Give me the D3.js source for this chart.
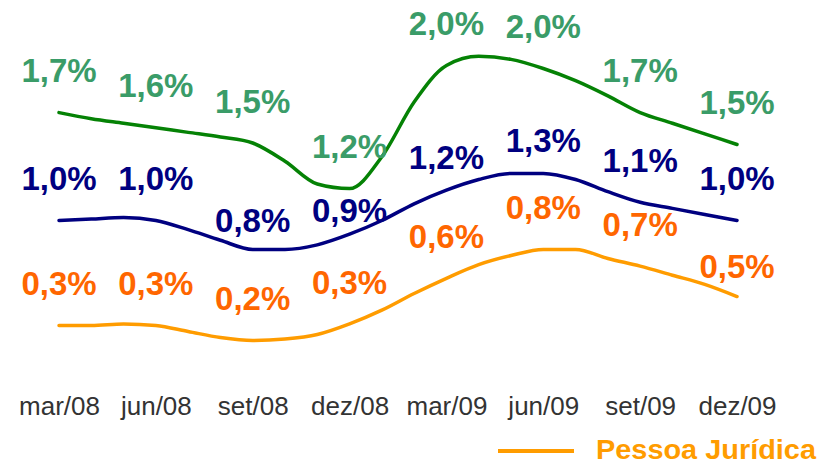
<!DOCTYPE html>
<html>
  <head>
    <meta charset="utf-8">
    <title>Inadimplência</title>
    <script src="https://d3js.org/d3.v7.min.js"></script>
    <style>
      body { margin: 0; background: #fff; }
    </style>
  </head>
  <body>
    <script>
      // months, mar/08 .. dez/09
      const months = ["mar/08", "abr/08", "mai/08", "jun/08", "jul/08", "ago/08", "set/08", "out/08", "nov/08",
        "dez/08", "jan/09", "fev/09", "mar/09", "abr/09", "mai/09", "jun/09", "jul/09", "ago/09", "set/09",
        "out/09", "nov/09", "dez/09"];
      const tickLabels = ["mar/08", "jun/08", "set/08", "dez/08", "mar/09", "jun/09", "set/09", "dez/09"];

      // monthly values (%)
      const totalSeries = [1.70, 1.66, 1.63, 1.60, 1.57, 1.54, 1.50, 1.38, 1.23, 1.20, 1.41, 1.77,
        2.01, 2.07, 2.05, 1.99, 1.91, 1.81, 1.70, 1.63, 1.56, 1.49];
      const pfSeries = [0.99, 1.00, 1.01, 0.99, 0.93, 0.86, 0.80, 0.80, 0.83, 0.90, 0.99, 1.10,
        1.19, 1.26, 1.30, 1.30, 1.26, 1.18, 1.11, 1.07, 1.03, 0.99];
      const pjSeries = [0.30, 0.30, 0.31, 0.30, 0.26, 0.22, 0.20, 0.21, 0.24, 0.31, 0.40, 0.51,
        0.61, 0.70, 0.76, 0.80, 0.80, 0.74, 0.69, 0.63, 0.57, 0.49];

      // quarterly labels shown on the chart
      const totalLabels = ["1,7%", "1,6%", "1,5%", "1,2%", "2,0%", "2,0%", "1,7%", "1,5%"];
      const pfLabels = ["1,0%", "1,0%", "0,8%", "0,9%", "1,2%", "1,3%", "1,1%", "1,0%"];
      const pjLabels = ["0,3%", "0,3%", "0,2%", "0,3%", "0,6%", "0,8%", "0,7%", "0,5%"];

      // label nudges (px) where the original moved a label off its usual place
      const totalNudge = [0, -1, 0, 0, 0, 0, 0, 0];
      const pfNudge = [0, 0, 13, 18, 9, 9, 0, 0];
      const pjNudge = [0, 0, 0, 0, 0, 0, 0, 12];

      const width = 822, height = 467;

      const svg = d3.select("body").append("svg")
          .attr("width", width)
          .attr("height", height)
          .style("font-family", "'Liberation Sans', Arial, sans-serif");

      svg.append("rect")
          .attr("width", width)
          .attr("height", height)
          .attr("fill", "#fff");

      const x = d3.scalePoint()
          .domain(months)
          .range([59, 737]);

      const y = d3.scaleLinear()
          .domain([0, 2])
          .range([371, 67]);

      const line = d3.line()
          .x((d, i) => x(months[i]))
          .y(d => y(d))
          .curve(d3.curveMonotoneX);

      const series = [
        {values: totalSeries, labels: totalLabels, nudge: totalNudge, lineColor: "#058205", textColor: "#3a9c68"},
        {values: pfSeries, labels: pfLabels, nudge: pfNudge, lineColor: "#000080", textColor: "#000080"},
        {values: pjSeries, labels: pjLabels, nudge: pjNudge, lineColor: "#ff9c00", textColor: "#ff6600"}
      ];

      series.forEach(s => {
        svg.append("path")
            .datum(s.values)
            .attr("d", line)
            .attr("fill", "none")
            .attr("stroke", s.lineColor)
            .attr("stroke-width", 3.5)
            .attr("stroke-linejoin", "round")
            .attr("stroke-linecap", "round");

        svg.append("g")
            .selectAll("text")
            .data(s.labels)
            .join("text")
            .attr("x", (d, i) => x(tickLabels[i]))
            .attr("y", (d, i) => y(s.values[months.indexOf(tickLabels[i])]) - 42 + s.nudge[i])
            .attr("dy", "0.36em")
            .attr("text-anchor", "middle")
            .attr("font-size", 33)
            .attr("font-weight", "bold")
            .attr("fill", s.textColor)
            .text(d => d);
      });

      // x axis, labels only
      const xAxis = d3.axisBottom(x)
          .tickValues(tickLabels)
          .tickSize(0)
          .tickPadding(0);

      const ax = svg.append("g")
          .attr("transform", "translate(0,397)")
          .call(xAxis);
      ax.select(".domain").remove();
      ax.selectAll("text")
          .attr("font-size", 26)
          .attr("font-family", "'Liberation Sans', Arial, sans-serif")
          .attr("fill", "#333");

      // legend (only the last entry is visible)
      const legend = svg.append("g");
      legend.append("line")
          .attr("x1", 498).attr("x2", 574)
          .attr("y1", 451).attr("y2", 451)
          .attr("stroke", "#ff9c00")
          .attr("stroke-width", 4);
      legend.append("text")
          .attr("x", 596)
          .attr("y", 459)
          .attr("font-size", 28)
          .attr("font-weight", "bold")
          .attr("fill", "#ff9c00")
          .attr("textLength", 220)
          .attr("lengthAdjust", "spacingAndGlyphs")
          .text("Pessoa Jurídica");
    </script>
  </body>
</html>
